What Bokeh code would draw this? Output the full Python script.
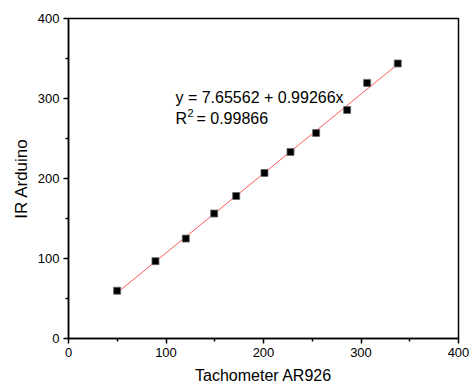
from bokeh.plotting import figure
from bokeh.models import Label, FixedTicker
from bokeh.embed import file_html
from bokeh.resources import INLINE

# data
tachometer = [49.9, 89.2, 120.3, 149.4, 172.0, 201.0, 227.7, 254.0, 285.8, 306.3, 337.7]
ir_arduino = [59.7, 96.7, 124.9, 156.2, 178.1, 206.9, 233.2, 256.9, 285.7, 319.5, 343.8]
intercept = 7.65562
slope = 0.99266
r2 = 0.99866
ticks = [0, 100, 200, 300, 400]
minor = [50, 150, 250, 350]

p = figure(width=470, height=388, output_backend="svg", toolbar_location=None,
           x_range=(0, 400), y_range=(0, 400),
           min_border_left=68, min_border_right=12, min_border_top=18, min_border_bottom=50)
p.xgrid.visible = False
p.ygrid.visible = False
p.outline_line_color = "black"
p.outline_line_width = 1.5
p.outline_line_alpha = 1

for ax in (p.xaxis[0], p.yaxis[0]):
    ax.ticker = FixedTicker(ticks=ticks, minor_ticks=minor)
    ax.axis_line_width = 1.5
    ax.major_tick_line_width = 1.5
    ax.minor_tick_line_width = 1.5
    ax.major_tick_out = 5
    ax.major_tick_in = 0
    ax.minor_tick_out = 3
    ax.minor_tick_in = 0
    ax.major_label_text_font = "Liberation Sans"
    ax.major_label_text_font_size = "13px"
    ax.major_label_text_color = "black"
    ax.axis_label_text_font = "Liberation Sans"
    ax.axis_label_text_font_style = "normal"
    ax.axis_label_text_color = "black"
    ax.major_label_standoff = 4

p.xaxis.axis_label = "Tachometer AR926"
p.yaxis.axis_label = "IR Arduino"
p.xaxis.axis_label_text_font_size = "16px"
p.yaxis.axis_label_text_font_size = "17px"
p.xaxis.axis_label_standoff = 7
p.yaxis.axis_label_standoff = 4

xs = [min(tachometer), max(tachometer)]
ys = [intercept + slope * x for x in xs]
p.line(xs, ys, line_color="#ff5a5a", line_width=1)
p.scatter(tachometer, ir_arduino, marker="square", size=7, fill_color="black",
          line_color="#666666", line_width=0.8)

font = dict(text_font="Liberation Sans", text_baseline="alphabetic", text_color="black")
eq = "y = %.5f + %.5fx" % (intercept, slope)
p.add_layout(Label(x=109.7, y=301, text=eq, text_font_size="16px", **font))
p.add_layout(Label(x=109.7, y=275, text="R", text_font_size="16px", **font))
p.add_layout(Label(x=109.7, y=275, x_offset=12, y_offset=6, text="2", text_font_size="11px", **font))
p.add_layout(Label(x=109.7, y=275, x_offset=21, text="= %.5f" % r2, text_font_size="16px", **font))

open("out.html", "w").write(file_html(p, INLINE))
